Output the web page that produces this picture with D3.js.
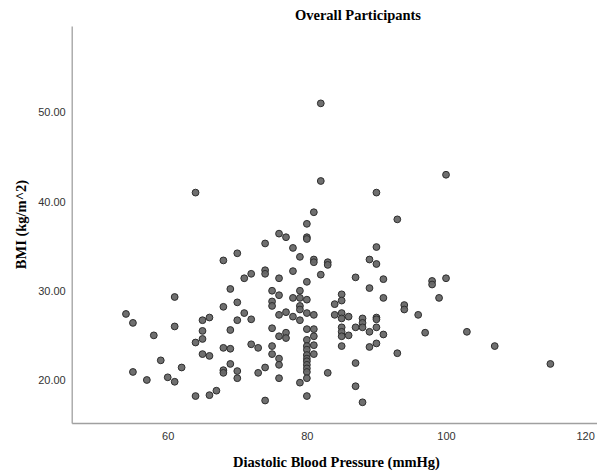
<!DOCTYPE html>
<html>
<head>
<meta charset="utf-8">
<script src="https://cdn.jsdelivr.net/npm/d3@7"></script>
<style>
  body { margin: 0; background: #fff; }
  .axis path { stroke: #a0a0a0; stroke-width: 1.3px; }
  .axis text { font-family: "Liberation Sans", Arial, sans-serif; font-size: 11px; fill: #333; }
  .title { font-family: "Liberation Serif", "Times New Roman", serif; font-weight: bold; font-size: 14.5px; fill: #000; }
</style>
</head>
<body>
<script>
var width = 597,
  height = 474;

// diastolic blood pressure (mmHg)
var dbp = [
  61, 54, 55, 61, 58, 65, 66, 65, 65, 64,
  68, 69, 70, 71, 70, 72, 69, 71, 59, 55,
  57, 60, 61, 62, 65, 66, 68, 69, 69, 68,
  68, 70, 70, 72, 73, 73, 64, 66, 67, 64,
  70, 68, 72,
  76, 77, 74, 80, 80, 78, 79, 81, 81, 83,
  83, 74, 74, 78, 76, 80, 82, 87, 75, 76,
  79, 78, 79, 80, 75, 75, 79, 79, 85, 85,
  84, 77, 76, 78, 79, 80, 81, 84, 85, 85,
  86, 87, 75, 77, 77, 76, 80, 81, 85, 85,
  85, 86, 85, 75, 80, 80, 81, 81, 81, 75,
  76, 76, 80, 80, 80, 80, 80, 80, 80, 80,
  74, 76, 79, 83, 87, 87, 80, 74, 88,
  82, 82, 81, 80,
  100, 90, 93, 90, 89, 90, 91, 98, 98, 100,
  89, 91, 99, 94, 94, 96, 88, 88, 88, 90,
  90, 90, 89, 91, 97, 103, 90, 89, 93, 107,
  115
];

// BMI (kg/m^2)
var bmi = [
  29.3, 27.4, 26.4, 26.0, 25.0, 26.7, 27.0, 25.5, 24.6, 24.2,
  28.2, 30.2, 28.7, 27.5, 26.7, 26.8, 25.6, 31.4, 22.2, 20.9,
  20.0, 20.3, 19.8, 21.4, 22.9, 22.7, 23.6, 23.5, 21.8, 21.1,
  20.8, 21.0, 20.2, 24.0, 23.6, 20.8, 18.2, 18.3, 18.8, 41.0,
  34.2, 33.4, 31.9,
  36.4, 36.0, 35.3, 36.0, 35.8, 34.8, 33.8, 33.5, 33.2, 33.2,
  32.9, 32.3, 31.9, 32.2, 31.4, 31.0, 31.8, 31.5, 30.0, 29.5,
  30.0, 29.2, 29.2, 29.0, 28.8, 28.3, 28.3, 27.9, 29.6, 28.9,
  28.5, 27.6, 27.3, 27.1, 26.7, 27.5, 27.3, 27.3, 27.5, 26.9,
  27.1, 25.9, 25.8, 25.3, 24.7, 24.9, 25.7, 25.7, 25.9, 25.4,
  24.9, 25.0, 23.8, 23.8, 24.5, 23.8, 24.9, 23.9, 22.9, 22.9,
  22.4, 21.7, 23.4, 22.8, 22.4, 22.1, 21.7, 21.3, 20.9, 20.2,
  21.4, 20.2, 19.7, 20.8, 21.9, 19.3, 18.2, 17.7, 17.5,
  51.0, 42.3, 38.8, 37.5,
  43.0, 41.0, 38.0, 34.9, 33.5, 33.0, 31.3, 31.1, 30.7, 31.4,
  30.3, 29.2, 29.2, 28.4, 27.9, 27.3, 26.9, 26.4, 25.9, 27.0,
  26.8, 25.9, 25.4, 25.1, 25.3, 25.4, 24.1, 23.7, 23.0, 23.8,
  21.8
];

var xTicks = [60, 80, 100, 120];
var yTicks = [20, 30, 40, 50];

var points = dbp.map(function(d, i) {
  return { dbp: d, bmi: bmi[i] };
});

var x = d3.scaleLinear()
  .domain([46.2, 121.7])
  .range([71.7, 597]);

var y = d3.scaleLinear()
  .domain([15.18, 59.67])
  .range([423, 26]);

var svg = d3.select("body").append("svg")
  .attr("width", width)
  .attr("height", height);

svg.append("g")
  .attr("class", "axis")
  .attr("transform", "translate(0,423)")
  .call(d3.axisBottom(x).tickValues(xTicks).tickSize(0).tickPadding(9).tickSizeOuter(0));

svg.append("g")
  .attr("class", "axis")
  .attr("transform", "translate(71.7,0)")
  .call(d3.axisLeft(y).tickValues(yTicks).tickSize(0).tickPadding(6).tickSizeOuter(0)
    .tickFormat(d3.format(".2f")));

svg.append("g")
  .selectAll("circle")
  .data(points)
  .enter().append("circle")
    .attr("cx", function(d) { return x(d.dbp); })
    .attr("cy", function(d) { return y(d.bmi); })
    .attr("r", 3.4)
    .attr("fill", "#676767")
    .attr("fill-opacity", 0.95)
    .attr("stroke", "#2e2e2e")
    .attr("stroke-width", 1);

svg.append("text")
  .attr("class", "title")
  .attr("x", 358)
  .attr("y", 19.5)
  .attr("text-anchor", "middle")
  .text("Overall Participants");

svg.append("text")
  .attr("class", "title")
  .attr("x", 336.5)
  .attr("y", 466.5)
  .attr("text-anchor", "middle")
  .text("Diastolic Blood Pressure (mmHg)");

svg.append("text")
  .attr("class", "title")
  .attr("transform", "translate(26,224.5) rotate(-90)")
  .attr("text-anchor", "middle")
  .text("BMI (kg/m^2)");
</script>
</body>
</html>
